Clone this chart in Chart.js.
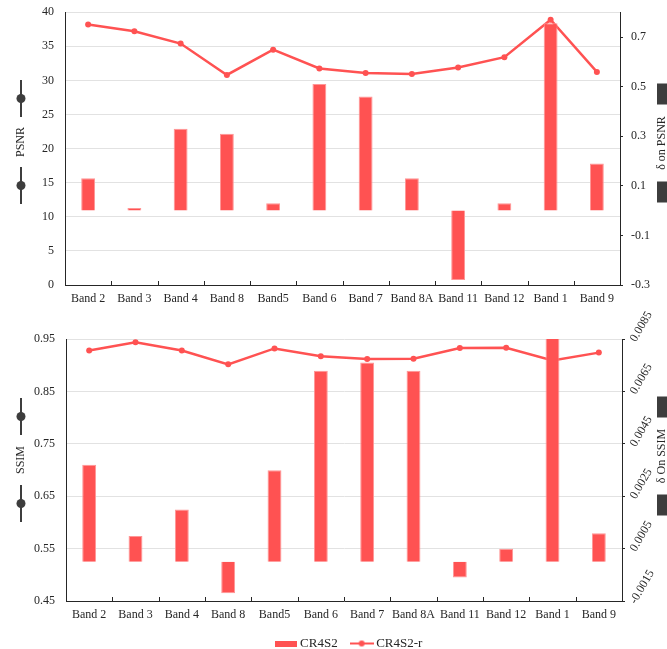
<!DOCTYPE html>
<html>
<head>
<meta charset="utf-8">
<script src="https://cdn.jsdelivr.net/npm/chart.js@4.4.0/dist/chart.umd.min.js"></script>
<style>
  html, body { margin: 0; padding: 0; background: #fff; overflow: hidden; }
  #wrap { position: relative; width: 667px; height: 649px; overflow: hidden; }
  #psnrChart { position: absolute; left: 0; top: -6px; }
  #ssimChart { position: absolute; left: 0; top: 300px; }
</style>
</head>
<body>
<div id="wrap">
  <canvas id="psnrChart" width="667" height="316"></canvas>
  <canvas id="ssimChart" width="667" height="360"></canvas>
</div>
<script>
'use strict';

// categories
const bands = ['Band 2', 'Band 3', 'Band 4', 'Band 8', 'Band5', 'Band 6', 'Band 7', 'Band 8A', 'Band 11', 'Band 12', 'Band 1', 'Band 9'];

// top panel: PSNR (line, left axis) and delta on PSNR (bars, right axis)
const psnr = [38.2, 37.2, 35.4, 30.8, 34.5, 31.75, 31.1, 30.95, 31.9, 33.4, 38.9, 31.25];
const psnrDelta = [0.13, 0.01, 0.33, 0.31, 0.03, 0.51, 0.46, 0.13, -0.28, 0.03, 0.755, 0.19];

// bottom panel: SSIM (line, left axis) and delta on SSIM (bars, right axis)
const ssim = [0.928, 0.9436, 0.928, 0.9016, 0.932, 0.917, 0.912, 0.9124, 0.9328, 0.9334, 0.909, 0.924];
const ssimDelta = [0.0037, 0.00098, 0.00199, -0.0012, 0.00349, 0.00729, 0.0076, 0.00729, -0.0006, 0.00049, 0.0086, 0.00109];

// tick labels
const psnrTicks = [0, 5, 10, 15, 20, 25, 30, 35, 40];
const psnrDeltaTicks = [-0.3, -0.1, 0.1, 0.3, 0.5, 0.7];
const ssimTicks = [0.45, 0.55, 0.65, 0.75, 0.85, 0.95];
const ssimDeltaTicks = [-0.0015, 0.0005, 0.0025, 0.0045, 0.0065, 0.0085];

const red = 'rgb(255, 82, 82)';
const ink = '#262626';
const decorInk = '#3d3d3d';
const gridGray = '#e2e2e2';
const serif = "'Liberation Serif', 'Times New Roman', serif";

Chart.defaults.font.family = serif;
Chart.defaults.font.size = 12;
Chart.defaults.color = ink;

function fixedTicks(values) {
    return scale => { scale.ticks = values.map(v => ({ value: v })); };
}

function makeSwatch(w, h, draw) {
    const c = document.createElement('canvas');
    c.width = w;
    c.height = h;
    draw(c.getContext('2d'));
    return c;
}

const barSwatch = makeSwatch(22, 6, g => {
    g.fillStyle = red;
    g.fillRect(0, 0, 22, 6);
});
const lineSwatch = makeSwatch(24, 8, g => {
    g.strokeStyle = red;
    g.lineWidth = 2;
    g.beginPath();
    g.moveTo(0, 4);
    g.lineTo(24, 4);
    g.stroke();
    g.fillStyle = red;
    g.beginPath();
    g.arc(12, 4, 3, 0, Math.PI * 2);
    g.fill();
});

// small tick marks pointing into the plot between categories
const innerTicks = {
    id: 'innerTicks',
    afterDraw(chart) {
        const x = chart.scales.x;
        const bottom = chart.chartArea.bottom;
        const ctx = chart.ctx;
        ctx.save();
        ctx.strokeStyle = ink;
        ctx.lineWidth = 1;
        for (let i = 1; i < bands.length; i++) {
            const px = Math.round((x.getPixelForValue(i - 1) + x.getPixelForValue(i)) / 2) + 0.5;
            ctx.beginPath();
            ctx.moveTo(px, bottom);
            ctx.lineTo(px, bottom - 4);
            ctx.stroke();
        }
        ctx.restore();
    }
};

// axis titles with their little legend symbols
function axisDecor(leftText, rightText, leftY, rightY) {
    return {
        id: 'axisDecor',
        afterDraw(chart) {
            const ctx = chart.ctx;
            ctx.save();
            ctx.fillStyle = ink;
            ctx.font = '12px ' + serif;
            ctx.textAlign = 'center';
            ctx.textBaseline = 'middle';

            // left title
            ctx.save();
            ctx.translate(21, leftY);
            ctx.rotate(-Math.PI / 2);
            ctx.fillText(leftText, 0, 0);
            ctx.restore();

            ctx.strokeStyle = decorInk;
            ctx.fillStyle = decorInk;
            ctx.lineWidth = 2;
            [-43.5, 43.5].forEach(dy => {
                const cy = leftY + dy;
                ctx.beginPath();
                ctx.moveTo(21, cy - 18.5);
                ctx.lineTo(21, cy + 18.5);
                ctx.stroke();
                ctx.beginPath();
                ctx.arc(21, cy, 4.5, 0, Math.PI * 2);
                ctx.fill();
            });

            // right title
            ctx.fillStyle = ink;
            ctx.save();
            ctx.translate(662, rightY);
            ctx.rotate(-Math.PI / 2);
            ctx.fillText(rightText, 0, 0);
            ctx.restore();

            ctx.fillStyle = decorInk;
            [-49, 49].forEach(dy => {
                ctx.fillRect(657, rightY + dy - 10.5, 12, 21);
            });
            ctx.restore();
        }
    };
}

// slanted labels for the right axis of the SSIM panel
const slantedRightLabels = {
    id: 'slantedRightLabels',
    afterDraw(chart) {
        const s = chart.scales.yR;
        const ctx = chart.ctx;
        ctx.save();
        ctx.fillStyle = ink;
        ctx.font = '12px ' + serif;
        ctx.textAlign = 'left';
        ctx.textBaseline = 'middle';
        ssimDeltaTicks.forEach(v => {
            const py = s.getPixelForValue(v);
            ctx.save();
            ctx.translate(s.left + 11, py + 2);
            ctx.rotate(-Math.PI / 3);
            ctx.fillText(v.toFixed(4), 0, 0);
            ctx.restore();
        });
        ctx.restore();
    }
};

function datasets(lineData, barData) {
    return [
        {
            type: 'bar',
            label: 'CR4S2',
            data: barData,
            yAxisID: 'yR',
            backgroundColor: red,
            borderColor: 'rgb(255, 150, 150)',
            borderWidth: 1,
            barPercentage: 0.3,
            categoryPercentage: 1,
            order: 1
        },
        {
            type: 'line',
            label: 'CR4S2-r',
            data: lineData,
            yAxisID: 'yL',
            borderColor: red,
            backgroundColor: red,
            borderWidth: 2.5,
            pointRadius: 3,
            pointBorderWidth: 0,
            pointBackgroundColor: red,
            tension: 0,
            order: 2
        }
    ];
}

function xScale(h) {
    return {
        offset: true,
        grid: { display: false, drawTicks: false },
        border: { display: true, color: ink },
        ticks: { padding: 7, maxRotation: 0, autoSkip: false, color: ink },
        afterFit: s => { s.height = h; }
    };
}

new Chart(document.getElementById('psnrChart'), {
    data: { labels: bands, datasets: datasets(psnr, psnrDelta) },
    options: {
        responsive: false,
        animation: false,
        devicePixelRatio: 1,
        layout: { padding: { top: 6, left: 0, right: 0, bottom: 2 } },
        plugins: { legend: { display: false }, tooltip: { enabled: false } },
        scales: {
            x: xScale(23),
            yL: {
                position: 'left',
                min: 0,
                max: 40,
                afterBuildTicks: fixedTicks(psnrTicks),
                afterFit: s => { s.width = 65; },
                grid: { color: gridGray, drawTicks: false },
                border: { color: ink },
                ticks: { padding: 11, callback: v => String(v) }
            },
            yR: {
                position: 'right',
                min: -0.3,
                max: 0.8,
                afterBuildTicks: fixedTicks(psnrDeltaTicks),
                afterFit: s => { s.width = 47; },
                grid: { drawOnChartArea: false, tickLength: 3, color: ink, tickColor: ink },
                border: { color: ink },
                ticks: { padding: 8, callback: v => v.toFixed(1) }
            }
        }
    },
    plugins: [innerTicks, axisDecor('PSNR', 'δ on PSNR', 148, 149)]
});

new Chart(document.getElementById('ssimChart'), {
    data: { labels: bands, datasets: datasets(ssim, ssimDelta) },
    options: {
        responsive: false,
        animation: false,
        devicePixelRatio: 1,
        layout: { padding: { top: 39, left: 33, right: 0, bottom: 0 } },
        plugins: {
            tooltip: { enabled: false },
            legend: {
                position: 'bottom',
                labels: {
                    usePointStyle: true,
                    pointStyleWidth: 16,
                    padding: 16,
                    color: ink,
                    font: { size: 13, family: serif },
                    generateLabels: chart => chart.data.datasets.map((ds, i) => ({
                        text: ds.label,
                        datasetIndex: i,
                        pointStyle: i === 0 ? barSwatch : lineSwatch,
                        fillStyle: 'rgba(0,0,0,0)',
                        strokeStyle: 'rgba(0,0,0,0)',
                        lineWidth: 0,
                        hidden: false,
                        fontColor: ink
                    }))
                }
            }
        },
        scales: {
            x: xScale(20),
            yL: {
                position: 'left',
                min: 0.45,
                max: 0.95,
                afterBuildTicks: fixedTicks(ssimTicks),
                afterFit: s => { s.width = 33; },
                grid: { color: gridGray, drawTicks: false },
                border: { color: ink },
                ticks: { padding: 11, callback: v => v.toFixed(2) }
            },
            yR: {
                position: 'right',
                min: -0.0015,
                max: 0.0085,
                afterBuildTicks: fixedTicks(ssimDeltaTicks),
                afterFit: s => { s.width = 45; },
                grid: { drawOnChartArea: false, tickLength: 3, color: ink, tickColor: ink },
                border: { color: ink },
                ticks: { padding: 8, color: 'rgba(0,0,0,0)' }
            }
        }
    },
    plugins: [innerTicks, slantedRightLabels, axisDecor('SSIM', 'δ On SSIM', 160, 156)]
});
</script>
</body>
</html>
